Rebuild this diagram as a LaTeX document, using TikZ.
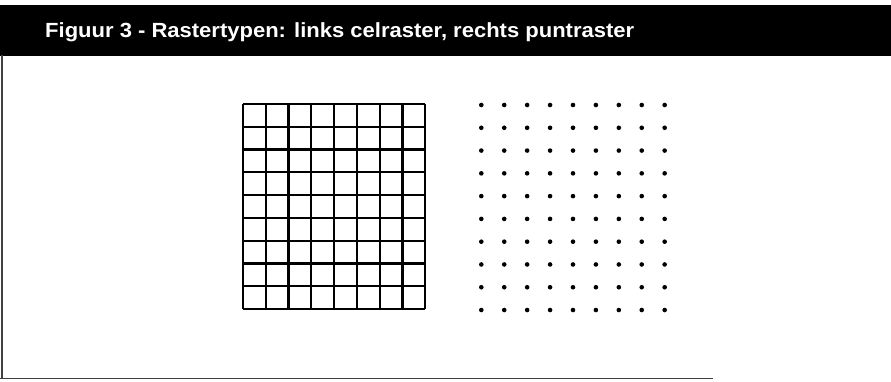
\documentclass[tikz,border=0pt]{standalone}
\usepackage{fontspec}
\setmainfont{Liberation Sans}
\usepackage{graphicx}
\tikzset{
  gridline/.style={line width=2.2pt, black},
  rasterdot/.style={fill=black, circle, inner sep=0pt, minimum size=4.6pt},
  frameline/.style={line width=1.6pt, black!75},
}
\begin{document}
\begin{tikzpicture}[x=1pt,y=-1pt]
\useasboundingbox (0,0) rectangle (891,381);
\fill[white] (0,0) rectangle (891,381);
% header band
\fill[black] (0,4.5) rectangle (891,55.5);
\node[anchor=base west, inner sep=0pt, text=white, font=\bfseries\fontsize{20.5}{24}\selectfont] (title) at (45,37.5)
  {\resizebox{589pt}{\height}{Figuur 3 - Rastertypen: links celraster, rechts puntraster}};
% frame lines
\draw[frameline] (2,55) -- (2,378.5);
\draw[frameline] (0,378.5) -- (713,378.5);
% cell raster: 8 columns x 9 rows
\foreach \i in {0,...,8} {
  \draw[gridline] ({242.8+\i*22.8},104) -- ({242.8+\i*22.8},309);
}
\foreach \j in {0,...,9} {
  \draw[gridline] (242.8,{104+\j*22.78}) -- (425.2,{104+\j*22.78});
}
% point raster: 9 columns x 10 rows
\foreach \i in {0,...,8} {
  \foreach \j in {0,...,9} {
    \node[rasterdot] (d\i\j) at ({481.3+\i*22.92},{105+\j*22.78}) {};
  }
}
\end{tikzpicture}
\end{document}
